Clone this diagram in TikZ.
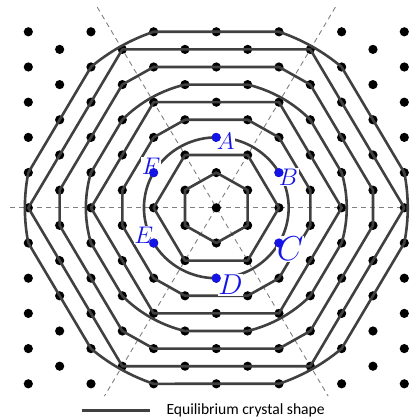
\documentclass[tikz,border=0pt]{standalone}
\usepackage{fontspec}
\usepackage{xcolor}
\usepackage{tikz}
\newfontfamily\legendfont{Carlito}
\definecolor{ptblue}{RGB}{20,20,230}

\begin{document}
\begin{tikzpicture}[x=15.665pt,y=17.6pt,
  site/.style={fill=black},
  axis/.style={gray,dash pattern=on 2.5pt off 2pt,line width=0.45pt},
  ecs/.style={draw=black!75,line width=1.3pt,line join=round},
  r6/.style={x radius=4.1633,y radius=3.6056},
  r9/.style={x radius=6.1101,y radius=5.2915},
  bluept/.style={circle,fill=ptblue,inner sep=0pt,minimum size=4.6pt},
  ptlab/.style={text=ptblue,fill=white,inner sep=0.4pt}]

  \useasboundingbox (-6.904,-6.0) rectangle (6.150,5.903);

  % symmetry axes through the centre site
  \draw[axis] (-6.58,0) -- (6.15,0);
  \draw[axis] (-3.8,5.7) -- (3.57,-5.35);
  \draw[axis] (3.8,5.7) -- (-3.57,-5.35);

  % lattice sites: even columns on whole rows, odd columns on half rows
  \foreach \k in {-6,-4,...,6}
    \foreach \m in {-5,...,5}
      \fill[site] (\k,\m) circle (2.3pt);
  \foreach \k in {-5,-3,...,5}
    \foreach \m in {-4.5,-3.5,...,4.5}
      \fill[site] (\k,\m) circle (2.3pt);

  % equilibrium shapes, inner to outer
  \draw[ecs] (0,1) -- (1,0.5) -- (1,-0.5) -- (0,-1) -- (-1,-0.5) -- (-1,0.5) -- cycle;
  \draw[ecs] (2,0) -- (1,1.5) -- (-1,1.5) -- (-2,0) -- (-1,-1.5) -- (1,-1.5) -- cycle;
  \draw[ecs] (0,0) circle[x radius=2.3094,y radius=2];
  \draw[ecs] (1,2.5) -- (2,2) -- (3,0.5) -- (3,-0.5) -- (2,-2) -- (1,-2.5)
    -- (-1,-2.5) -- (-2,-2) -- (-3,-0.5) -- (-3,0.5) -- (-2,2) -- (-1,2.5) -- cycle;
  \draw[ecs] (4,0) -- (2,3) -- (-2,3) -- (-4,0) -- (-2,-3) -- (2,-3) -- cycle;
  \draw[ecs] (-1,3.5) -- (1,3.5) arc[r6,start angle=76.10,end angle=43.90]
    -- (4,1) arc[r6,start angle=16.10,end angle=-16.10]
    -- (3,-2.5) arc[r6,start angle=-43.90,end angle=-76.10]
    -- (-1,-3.5) arc[r6,start angle=-103.90,end angle=-136.10]
    -- (-4,-1) arc[r6,start angle=-163.90,end angle=-196.10]
    -- (-3,2.5) arc[r6,start angle=136.10,end angle=103.90] -- cycle;
  \draw[ecs] (2,4) -- (3,3.5) -- (5,0.5) -- (5,-0.5) -- (3,-3.5) -- (2,-4)
    -- (-2,-4) -- (-3,-3.5) -- (-5,-0.5) -- (-5,0.5) -- (-3,3.5) -- (-2,4) -- cycle;
  \draw[ecs] (6,0) -- (3,4.5) -- (-3,4.5) -- (-6,0) -- (-3,-4.5) -- (3,-4.5) -- cycle;
  \draw[ecs] (-2,5) -- (2,5) arc[r9,start angle=70.89,end angle=49.11]
    -- (6,1) arc[r9,start angle=10.89,end angle=-10.89]
    -- (4,-4) arc[r9,start angle=-49.11,end angle=-70.89]
    -- (-2,-5) arc[r9,start angle=-109.11,end angle=-130.89]
    -- (-6,-1) arc[r9,start angle=-169.11,end angle=-190.89]
    -- (-4,4) arc[r9,start angle=130.89,end angle=109.11] -- cycle;

  % marked sites on the round shape (labels first, so the dots stay on top)
  \foreach \n/\lx/\ly/\fs in {A/0.30/1.889/12, B/2.298/0.875/12,
      C/2.361/-1.170/17.28, D/0.453/-2.193/14.4,
      E/-2.314/-0.781/12, F/-2.084/1.188/12}
    \node[ptlab,font=\fontsize{\fs}{\fs}\selectfont] (l\n) at (\lx,\ly) {$\n$};
  \foreach \n/\px/\py in {A/0/2, B/2/1, C/2/-1, D/0/-2, E/-2/-1, F/-2/1}
    \node[bluept] (p\n) at (\px,\py) {};

  % legend
  \coordinate (legL) at (-4.296,-5.764);
  \coordinate (legR) at (-2.116,-5.764);
  \draw[ecs] (legL) -- (legR);
  \node[anchor=base west,inner sep=0pt,font=\legendfont\fontsize{7.8}{9}\selectfont]
    (legend) at (-1.602,-5.886) {Equilibrium crystal shape};

\end{tikzpicture}
\end{document}
